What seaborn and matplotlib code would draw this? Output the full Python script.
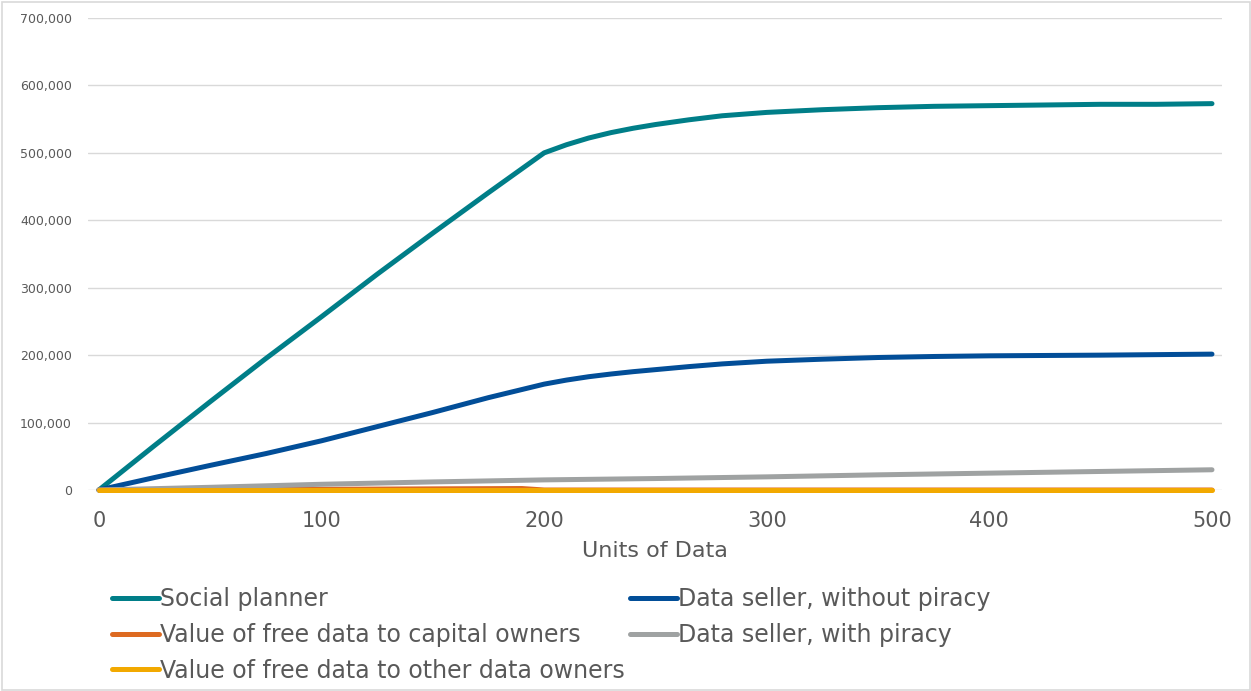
import matplotlib
matplotlib.use("Agg")
import matplotlib.pyplot as plt
from matplotlib.lines import Line2D
from matplotlib.patches import Rectangle
from matplotlib.ticker import FuncFormatter
import numpy as np
import pandas as pd
import seaborn as sns

# Surplus (value) by units of data for each scenario
planner_units = [0, 25, 50, 75, 100, 125, 150, 175, 200, 210, 220, 230, 240, 250,
                 265, 280, 300, 325, 350, 375, 400, 425, 450, 475, 500]
planner_value = [0, 66000, 131000, 195000, 257000, 320000, 381000, 441000, 500000,
                 512000, 522000, 530000, 536500, 542000, 549000, 555000, 560000,
                 564000, 567000, 569000, 570000, 571000, 572000, 572000, 573000]

seller_units = [0, 25, 50, 75, 100, 125, 150, 175, 200, 210, 220, 230, 240, 250,
                265, 280, 300, 325, 350, 375, 400, 450, 500]
seller_value = [0, 18500, 36500, 54000, 73000, 94000, 115000, 137000, 157000,
                163000, 168000, 172000, 175500, 178500, 183000, 187000, 191000,
                194000, 196500, 198000, 199000, 200000, 201500]

capital_units = [0, 100, 150, 190, 200, 300, 400, 500]
capital_value = [0, 1000, 1700, 2200, 0, 0, 0, 0]

piracy_units = [0, 50, 100, 150, 200, 250, 300, 350, 400, 450, 500]
piracy_value = [0, 4000, 8500, 12000, 15000, 17000, 19500, 22500, 25000, 27500, 30000]

other_units = [0, 100, 200, 300, 400, 500]
other_value = [0, 0, 0, 0, 0, 0]

series_names = [
    "Social planner",
    "Data seller, without piracy",
    "Value of free data to capital owners",
    "Data seller, with piracy",
    "Value of free data to other data owners",
]
series_colors = ["#007E88", "#024E98", "#DD6A21", "#9FA2A2", "#F2A900"]

frames = []
for name, xs, ys in zip(
    series_names,
    [planner_units, seller_units, capital_units, piracy_units, other_units],
    [planner_value, seller_value, capital_value, piracy_value, other_value],
):
    frames.append(pd.DataFrame({"units": xs, "value": ys, "series": name}))
df = pd.concat(frames, ignore_index=True)

sns.set_theme(style="white")
plt.rcParams["font.family"] = ["DejaVu Sans"]

W, H = 1251, 691
fig = plt.figure(figsize=(W / 100, H / 100), dpi=100)
ax = fig.add_axes([88 / W, 1 - 490 / H, (1222 - 88) / W, (490 - 18) / H])

LW = 3.6
sns.lineplot(
    data=df, x="units", y="value", hue="series", hue_order=series_names,
    palette=dict(zip(series_names, series_colors)), estimator=None,
    linewidth=LW, legend=False, ax=ax,
)
for ln in ax.lines:
    ln.set_clip_on(False)
    ln.set_solid_capstyle("round")
    ln.set_solid_joinstyle("round")

ax.set_xlim(-4.9, 504.5)
ax.set_ylim(0, 700000)
ax.set_xticks([0, 100, 200, 300, 400, 500])
ax.set_yticks(np.arange(0, 700001, 100000))
ax.yaxis.set_major_formatter(FuncFormatter(lambda v, p: f"{int(v):,}"))
ax.grid(axis="y", color="#d9d9d9", linewidth=1.0)
ax.set_axisbelow(True)
for s in ax.spines.values():
    s.set_visible(False)

ax.tick_params(axis="x", length=0, pad=15, labelsize=15, labelcolor="#595959")
ax.tick_params(axis="y", length=0, pad=11.5, labelsize=9, labelcolor="#595959")

ax.set_ylabel("")
ax.set_xlabel("Units of Data", fontsize=16, color="#595959")
ax.xaxis.set_label_coords(0.5, -(551 - 490) / 472)
ax.xaxis.label.set_verticalalignment("center")

def handle(c):
    return Line2D([], [], color=c, linewidth=LW, solid_capstyle="round")

leg_kw = dict(frameon=False, fontsize=17, handlelength=2.0, handletextpad=0.02,
              borderpad=0, borderaxespad=0, labelspacing=0.5, loc="upper left",
              labelcolor="#595959")
left_idx = [0, 2, 4]
right_idx = [1, 3]
leg1 = fig.legend([handle(series_colors[i]) for i in left_idx],
                  [series_names[i] for i in left_idx],
                  bbox_to_anchor=(112 / W, 1 - 587 / H), **leg_kw)
leg2 = fig.legend([handle(series_colors[i]) for i in right_idx],
                  [series_names[i] for i in right_idx],
                  bbox_to_anchor=(630 / W, 1 - 587 / H), **leg_kw)

fig.add_artist(Rectangle((1.5 / W, 1.5 / H), 1 - 3 / W, 1 - 3 / H,
                         transform=fig.transFigure, fill=False,
                         edgecolor="#d9d9d9", linewidth=1.2))

fig.savefig("out.png", dpi=100)
